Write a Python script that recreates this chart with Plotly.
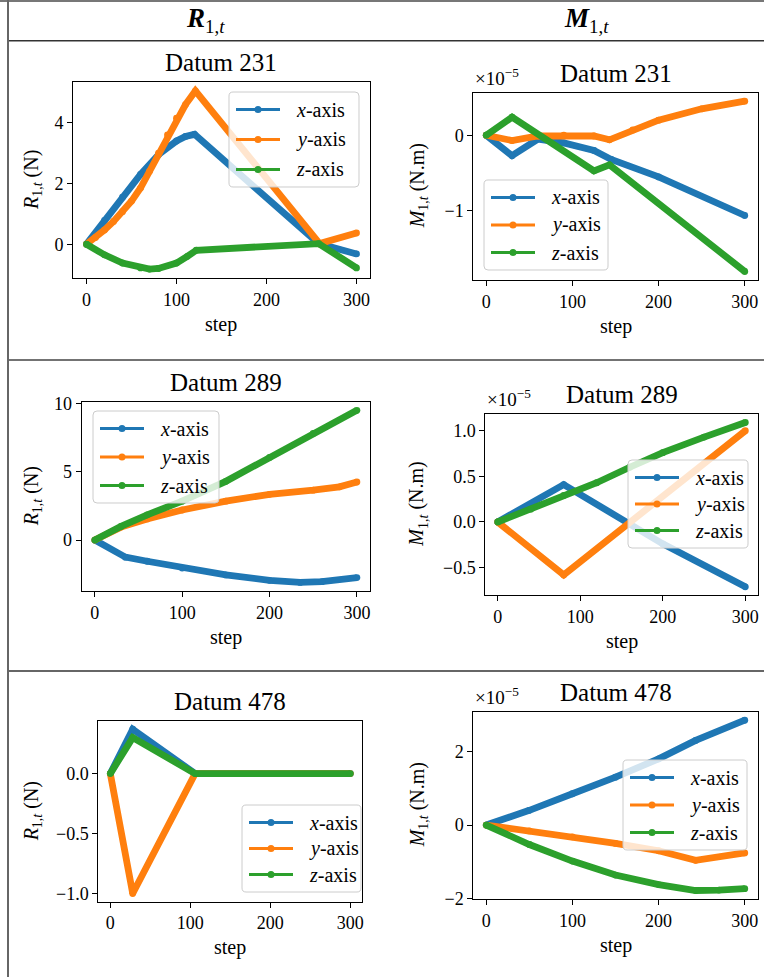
import plotly.graph_objects as go

W, H = 764, 977
FONT = "Liberation Serif, 'Times New Roman', 'DejaVu Serif', serif"
COLORS = {"x": "#1f77b4", "y": "#ff7f0e", "z": "#2ca02c"}
AXES = ["x", "y", "z"]

# ---------------- data ----------------
# Datum 231, R_{1,t} (N)
d231_R_x_steps = [0, 20, 40, 60, 80, 100, 110, 120, 258, 300]
d231_R_x_vals = [0, 0.78, 1.55, 2.3, 2.95, 3.4, 3.55, 3.62, 0.02, -0.32]
d231_R_y_steps = [0, 10, 20, 30, 40, 50, 60, 70, 80, 90, 100, 110, 121, 259, 300]
d231_R_y_vals = [0, 0.22, 0.47, 0.75, 1.07, 1.42, 1.85, 2.4, 3.0, 3.6, 4.15, 4.6, 5.05, 0.02, 0.37]
d231_R_z_steps = [0, 20, 40, 60, 70, 80, 100, 112, 122, 258, 300]
d231_R_z_vals = [0, -0.35, -0.62, -0.78, -0.82, -0.8, -0.62, -0.4, -0.2, 0.02, -0.78]

# Datum 231, M_{1,t} (x 1e-5 N.m)
d231_M_x_steps = [0, 30, 60, 90, 125, 145, 200, 300]
d231_M_x_vals = [0, -0.27, -0.05, -0.1, -0.2, -0.32, -0.55, -1.06]
d231_M_y_steps = [0, 30, 60, 90, 125, 143, 170, 200, 250, 300]
d231_M_y_vals = [0, -0.07, -0.01, 0.0, -0.01, -0.06, 0.07, 0.2, 0.35, 0.45]
d231_M_z_steps = [0, 30, 125, 143, 300]
d231_M_z_vals = [0, 0.24, -0.47, -0.39, -1.8]

# Datum 289, R_{1,t} (N)
d289_R_x_steps = [0, 35, 60, 100, 150, 200, 235, 260, 300]
d289_R_x_vals = [0, -1.25, -1.55, -2.05, -2.55, -2.95, -3.1, -3.05, -2.75]
d289_R_y_steps = [0, 30, 60, 100, 150, 200, 250, 280, 300]
d289_R_y_vals = [0, 0.95, 1.55, 2.2, 2.85, 3.35, 3.65, 3.9, 4.25]
d289_R_z_steps = [0, 30, 60, 100, 150, 200, 250, 300]
d289_R_z_vals = [0, 1.0, 1.85, 2.85, 4.3, 6.05, 7.8, 9.5]

# Datum 289, M_{1,t} (x 1e-5 N.m)
d289_M_x_steps = [0, 80, 200, 300]
d289_M_x_vals = [0, 0.41, -0.24, -0.71]
d289_M_y_steps = [0, 80, 300]
d289_M_y_vals = [0, -0.58, 1.0]
d289_M_z_steps = [0, 40, 80, 120, 160, 200, 250, 300]
d289_M_z_vals = [0, 0.14, 0.29, 0.43, 0.6, 0.76, 0.93, 1.09]

# Datum 478, R_{1,t} (N)
d478_R_x_steps = [0, 28, 106, 300]
d478_R_x_vals = [0, 0.37, 0, 0]
d478_R_y_steps = [0, 28, 106, 300]
d478_R_y_vals = [0, -1.0, 0, 0]
d478_R_z_steps = [0, 28, 106, 300]
d478_R_z_vals = [0, 0.30, 0, 0]

# Datum 478, M_{1,t} (x 1e-5 N.m)
d478_M_x_steps = [0, 50, 100, 150, 200, 243, 300]
d478_M_x_vals = [0, 0.4, 0.85, 1.3, 1.8, 2.3, 2.85]
d478_M_y_steps = [0, 50, 100, 150, 200, 243, 300]
d478_M_y_vals = [0, -0.16, -0.32, -0.5, -0.7, -0.96, -0.76]
d478_M_z_steps = [0, 50, 100, 150, 200, 243, 270, 300]
d478_M_z_vals = [0, -0.53, -0.98, -1.36, -1.62, -1.78, -1.77, -1.73]

column_headers = ["<b><i>R</i></b><sub>1,<i>t</i></sub>", "<b><i>M</i></b><sub>1,<i>t</i></sub>"]
legend_labels = {"x": "<i>x</i>-axis", "y": "<i>y</i>-axis", "z": "<i>z</i>-axis"}
R_label = "<i>R</i><sub>1,<i>t</i></sub> (N)"
M_label = "<i>M</i><sub>1,<i>t</i></sub> (N.m)"
x_label = "step"
offset_label = "×10<sup>−5</sup>"

panels = [
    dict(title="Datum 231", ylabel=R_label, scaled=False,
         data={"x": (d231_R_x_steps, d231_R_x_vals), "y": (d231_R_y_steps, d231_R_y_vals),
               "z": (d231_R_z_steps, d231_R_z_vals)},
         box=(73, 370, 82, 278), dtick=2, fmt="d",
         leg=(229, 92, 130, 95), col=0),
    dict(title="Datum 231", ylabel=M_label, scaled=True,
         data={"x": (d231_M_x_steps, d231_M_x_vals), "y": (d231_M_y_steps, d231_M_y_vals),
               "z": (d231_M_z_steps, d231_M_z_vals)},
         box=(473.3, 757.7, 92.7, 280), dtick=1, fmt="d",
         leg=(484, 180, 124, 90), col=1),
    dict(title="Datum 289", ylabel=R_label, scaled=False,
         data={"x": (d289_R_x_steps, d289_R_x_vals), "y": (d289_R_y_steps, d289_R_y_vals),
               "z": (d289_R_z_steps, d289_R_z_vals)},
         box=(81.7, 370, 401.7, 591), dtick=5, fmt="d",
         leg=(93, 411, 126, 92), col=0),
    dict(title="Datum 289", ylabel=M_label, scaled=True,
         data={"x": (d289_M_x_steps, d289_M_x_vals), "y": (d289_M_y_steps, d289_M_y_vals),
               "z": (d289_M_z_steps, d289_M_z_vals)},
         box=(485.3, 757.7, 414.3, 595), dtick=0.5, fmt=".1f",
         leg=(628, 460, 120, 88), col=1),
    dict(title="Datum 478", ylabel=R_label, scaled=False,
         data={"x": (d478_R_x_steps, d478_R_x_vals), "y": (d478_R_y_steps, d478_R_y_vals),
               "z": (d478_R_z_steps, d478_R_z_vals)},
         box=(98.3, 362.3, 721, 901.7), dtick=0.5, fmt=".1f",
         leg=(242, 805, 119, 87), col=0),
    dict(title="Datum 478", ylabel=M_label, scaled=True,
         data={"x": (d478_M_x_steps, d478_M_x_vals), "y": (d478_M_y_steps, d478_M_y_vals),
               "z": (d478_M_z_steps, d478_M_z_vals)},
         box=(473.3, 757.7, 711.7, 899), dtick=2, fmt="d",
         leg=(623, 760, 124, 90), col=1),
]


def px_x(v):
    return v / W


def px_y(v):
    return 1 - v / H


def rounded_rect_path(l, t, w, h, r=4):
    X = lambda v: f"{px_x(v):.6f}"
    Y = lambda v: f"{px_y(v):.6f}"
    R, B = l + w, t + h
    return (f"M{X(l + r)},{Y(t)} L{X(R - r)},{Y(t)} Q{X(R)},{Y(t)} {X(R)},{Y(t + r)} "
            f"L{X(R)},{Y(B - r)} Q{X(R)},{Y(B)} {X(R - r)},{Y(B)} "
            f"L{X(l + r)},{Y(B)} Q{X(l)},{Y(B)} {X(l)},{Y(B - r)} "
            f"L{X(l)},{Y(t + r)} Q{X(l)},{Y(t)} {X(l + r)},{Y(t)} Z")


fig = go.Figure()
annotations = []
shapes = []
layout = {}

for i, p in enumerate(panels):
    n = i + 1
    sfx = "" if n == 1 else str(n)
    xa, ya = "x" + sfx, "y" + sfx
    x0, x1, y0, y1 = p["box"]

    all_vals = [v for a in AXES for v in p["data"][a][1]]
    all_steps = [s for a in AXES for s in p["data"][a][0]]
    vmin, vmax = min(all_vals), max(all_vals)
    smin, smax = min(all_steps), max(all_steps)
    vpad = 0.05 * (vmax - vmin)
    spad = 0.05 * (smax - smin)

    for a in AXES:
        steps, vals = p["data"][a]
        fig.add_trace(go.Scatter(
            x=steps, y=vals, mode="lines+markers", xaxis=xa, yaxis=ya,
            name=legend_labels[a],
            line=dict(color=COLORS[a], width=6.8),
            marker=dict(color=COLORS[a], size=6.8),
            showlegend=False, hoverinfo="skip"))

    axis_common = dict(showline=True, linecolor="black", linewidth=1, mirror=True,
                       ticks="outside", ticklen=5, tickwidth=1, tickcolor="black",
                       showgrid=False, zeroline=False, automargin=False,
                       tickfont=dict(family=FONT, size=18, color="black"))
    layout["xaxis" + sfx] = dict(
        domain=[px_x(x0), px_x(x1)], anchor=ya,
        range=[smin - spad, smax + spad], tick0=0, dtick=100, **axis_common)
    layout["yaxis" + sfx] = dict(
        domain=[px_y(y1), px_y(y0)], anchor=xa,
        range=[vmin - vpad, vmax + vpad], tick0=0, dtick=p["dtick"],
        tickformat=p["fmt"], **axis_common)

    # legend box (matplotlib style)
    ll, lt, lw, lh = p["leg"]
    shapes.append(dict(type="path", xref="paper", yref="paper", path=rounded_rect_path(ll, lt, lw, lh),
                       fillcolor="rgba(255,255,255,0.8)", line=dict(color="#cccccc", width=1),
                       layer="above"))
    row0 = lt + 17.5
    step_y = (lh - 35) / 2
    for k, a in enumerate(AXES):
        ry = row0 + k * step_y
        shapes.append(dict(type="line", xref="paper", yref="paper",
                           x0=px_x(ll + 7), x1=px_x(ll + 51), y0=px_y(ry), y1=px_y(ry),
                           line=dict(color=COLORS[a], width=3), layer="above"))
        shapes.append(dict(type="circle", xref="paper", yref="paper",
                           x0=px_x(ll + 29 - 3.5), x1=px_x(ll + 29 + 3.5),
                           y0=px_y(ry + 3.5), y1=px_y(ry - 3.5),
                           fillcolor=COLORS[a], line=dict(width=0), layer="above"))
        annotations.append(dict(text=legend_labels[a], x=px_x(ll + 65), y=px_y(ry),
                                xref="paper", yref="paper", xanchor="left", yanchor="middle",
                                showarrow=False, font=dict(family=FONT, size=20, color="black")))

    cx = (x0 + x1) / 2
    annotations.append(dict(text=p["title"], x=px_x(cx), y=px_y(y0 - 4), xref="paper", yref="paper",
                            xanchor="center", yanchor="bottom", showarrow=False,
                            font=dict(family=FONT, size=25, color="black")))
    annotations.append(dict(text=x_label, x=px_x(cx), y=px_y(y1 + 46), xref="paper", yref="paper",
                            xanchor="center", yanchor="middle", showarrow=False,
                            font=dict(family=FONT, size=20, color="black")))
    lab_x = 32 if p["col"] == 0 else 418
    annotations.append(dict(text=p["ylabel"], x=px_x(lab_x), y=px_y((y0 + y1) / 2),
                            xref="paper", yref="paper", xanchor="center", yanchor="middle",
                            textangle=-90, showarrow=False,
                            font=dict(family=FONT, size=20, color="black")))
    if p["scaled"]:
        annotations.append(dict(text=offset_label, x=px_x(x0), y=px_y(y0 - 2), xref="paper",
                                yref="paper", xanchor="left", yanchor="bottom", showarrow=False,
                                font=dict(family=FONT, size=19, color="black")))

# column headers
for txt, cx in zip(column_headers, [205, 586]):
    annotations.append(dict(text=txt, x=px_x(cx), y=px_y(20), xref="paper", yref="paper",
                            xanchor="center", yanchor="middle", showarrow=False,
                            font=dict(family=FONT, size=27, color="black")))


# table borders
def hline(ypx, color, width, x0=8, x1=W):
    return dict(type="line", xref="paper", yref="paper", x0=px_x(x0), x1=px_x(x1),
                y0=px_y(ypx), y1=px_y(ypx), line=dict(color=color, width=width), layer="above")


shapes.append(hline(1, "#777777", 2, x0=0))
shapes.append(hline(40.7, "#333333", 1.5))
shapes.append(hline(360, "#444444", 1.5))
shapes.append(hline(671, "#333333", 1.5))
shapes.append(dict(type="line", xref="paper", yref="paper", x0=px_x(8), x1=px_x(8),
                   y0=0, y1=1, line=dict(color="#666666", width=2), layer="above"))

fig.update_layout(width=W, height=H, margin=dict(l=0, r=0, t=0, b=0, pad=0, autoexpand=False),
                  paper_bgcolor="white", plot_bgcolor="white", showlegend=False,
                  font=dict(family=FONT, color="black"),
                  annotations=annotations, shapes=shapes, **layout)

page_fix = (
    "document.documentElement.style.margin='0';"
    "document.body.style.margin='0';document.body.style.padding='0';"
    "document.body.style.overflow='hidden';"
    "var gd=document.getElementsByClassName('plotly-graph-div')[0];"
    "gd.style.position='fixed';gd.style.top='0px';gd.style.left='0px';"
)
fig.write_html("out.html", config={"displayModeBar": False}, post_script=page_fix)
